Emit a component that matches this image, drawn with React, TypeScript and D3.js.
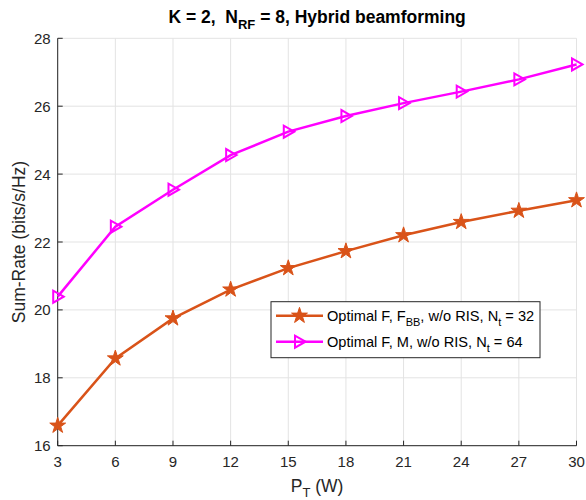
import React from 'react';
import * as d3 from 'd3';

const powerW = [3, 6, 9, 12, 15, 18, 21, 24, 27, 30];
const rateFbbNt32 = [16.59, 18.57, 19.75, 20.6, 21.23, 21.73, 22.2, 22.59, 22.92, 23.23];
const rateMNt64 = [20.39, 22.45, 23.54, 24.56, 25.25, 25.71, 26.09, 26.43, 26.79, 27.23];
const xTicks = [3, 6, 9, 12, 15, 18, 21, 24, 27, 30];
const yTicks = [16, 18, 20, 22, 24, 26, 28];

const W = 586;
const H = 500;
const margin = { left: 57.7, right: 9.5, top: 38.3, bottom: 54.3 };
const font = "'Liberation Sans', Arial, Helvetica, sans-serif";
const axisColor = '#262626';
const gridColor = '#e3e3e3';
const orange = '#D95319';
const magenta = '#FF00FF';

const starPath = d3.symbol().type(d3.symbolStar).size(78)() as string;
const triPath = 'M6,0 L-4.5,-6 L-4.5,6 Z';

const App = () => {
  const x = d3.scaleLinear().domain([3, 30]).range([margin.left, W - margin.right]);
  const y = d3.scaleLinear().domain([16, 28]).range([H - margin.bottom, margin.top]);
  const x0 = x.range()[0];
  const x1 = x.range()[1];
  const y0 = y.range()[0];
  const y1 = y.range()[1];

  const line = d3.line<number>().x((_, i) => x(powerW[i])).y(d => y(d));

  // legend box
  const lg = { x: 271, y: 301.7, w: 269, h: 56 };
  const row1 = lg.y + 14;
  const row2 = lg.y + 40;

  return (
    <svg width={W} height={H} style={{ position: 'absolute', left: 0, top: 0, background: '#fff' }} fontFamily={font}>
      <rect width={W} height={H} fill="#fff" />
      {/* grid */}
      {xTicks.map(t => (
        <line key={'gx' + t} x1={x(t)} x2={x(t)} y1={y0} y2={y1} stroke={gridColor} strokeWidth={1} />
      ))}
      {yTicks.map(t => (
        <line key={'gy' + t} x1={x0} x2={x1} y1={y(t)} y2={y(t)} stroke={gridColor} strokeWidth={1} />
      ))}

      {/* axes */}
      <line x1={x0} x2={x0} y1={y0} y2={y1} stroke={axisColor} strokeWidth={1} />
      <line x1={x0} x2={x1} y1={y0} y2={y0} stroke={axisColor} strokeWidth={1} />
      {xTicks.map(t => (
        <g key={'tx' + t}>
          <line x1={x(t)} x2={x(t)} y1={y0} y2={y0 - 5} stroke={axisColor} />
          <text x={x(t)} y={y0 + 21.5} textAnchor="middle" fontSize={15} fill={axisColor}>{t}</text>
        </g>
      ))}
      {yTicks.map(t => (
        <g key={'ty' + t}>
          <line x1={x0} x2={x0 + 5} y1={y(t)} y2={y(t)} stroke={axisColor} />
          <text x={x0 - 7} y={y(t) + 5.5} textAnchor="end" fontSize={15} fill={axisColor}>{t}</text>
        </g>
      ))}

      {/* series */}
      <path d={line(rateFbbNt32) || ''} fill="none" stroke={orange} strokeWidth={2.5} />
      {rateFbbNt32.map((v, i) => (
        <path key={'s' + i} d={starPath} transform={`translate(${x(powerW[i])},${y(v)})`} fill={orange} stroke={orange} strokeWidth={1} />
      ))}
      <path d={line(rateMNt64) || ''} fill="none" stroke={magenta} strokeWidth={2.5} />
      {rateMNt64.map((v, i) => (
        <path key={'t' + i} d={triPath} transform={`translate(${x(powerW[i])},${y(v)})`} fill="none" stroke={magenta} strokeWidth={2} />
      ))}

      {/* title */}
      <text x={(x0 + x1) / 2} y={23} textAnchor="middle" fontSize={17.5} fontWeight="bold" fill="#000">
        K = 2,{'\u00a0\u00a0'}N<tspan dy={6} fontSize={13}>RF</tspan><tspan dy={-6}> = 8, Hybrid beamforming</tspan>
      </text>

      {/* axis labels */}
      <text x={(x0 + x1) / 2} y={492} textAnchor="middle" fontSize={17.5} fill={axisColor}>
        P<tspan dy={5} fontSize={13}>T</tspan><tspan dy={-5}> (W)</tspan>
      </text>
      <text transform={`translate(25,${(y0 + y1) / 2}) rotate(-90)`} textAnchor="middle" fontSize={17.5} fill={axisColor}>
        Sum-Rate (bits/s/Hz)
      </text>

      {/* legend */}
      <rect x={lg.x} y={lg.y} width={lg.w} height={lg.h} fill="#fff" stroke={axisColor} strokeWidth={1} />
      <line x1={lg.x + 5} x2={lg.x + 52} y1={row1} y2={row1} stroke={orange} strokeWidth={2.5} />
      <path d={starPath} transform={`translate(${lg.x + 28.5},${row1})`} fill={orange} stroke={orange} />
      <text x={lg.x + 56} y={row1 + 5} fontSize={14.6} fill="#000">
        Optimal F, F<tspan dy={5} fontSize={11}>BB</tspan><tspan dy={-5}>, w/o RIS, N</tspan><tspan dy={5} fontSize={11}>t</tspan><tspan dy={-5}> = 32</tspan>
      </text>
      <line x1={lg.x + 5} x2={lg.x + 52} y1={row2} y2={row2} stroke={magenta} strokeWidth={2.5} />
      <path d={triPath} transform={`translate(${lg.x + 28.5},${row2})`} fill="none" stroke={magenta} strokeWidth={2} />
      <text x={lg.x + 56} y={row2 + 5} fontSize={14.6} fill="#000">
        Optimal F, M, w/o RIS, N<tspan dy={5} fontSize={11}>t</tspan><tspan dy={-5}> = 64</tspan>
      </text>
    </svg>
  );
};

export default App;
